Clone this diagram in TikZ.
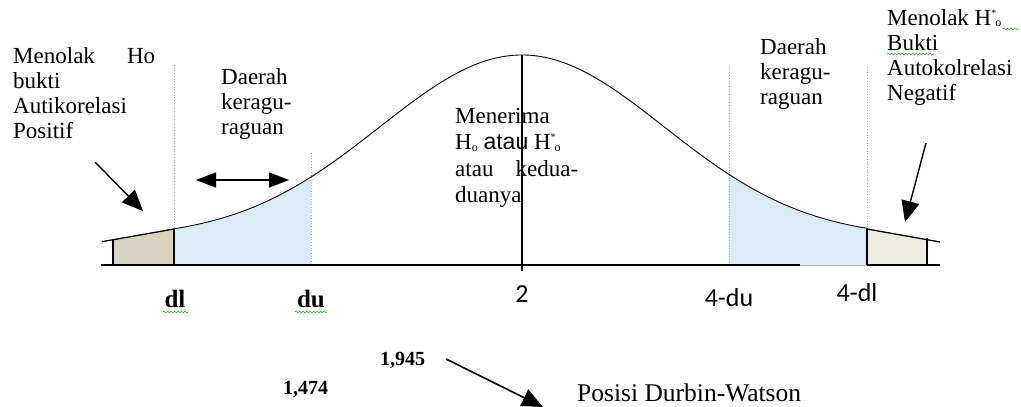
\documentclass[tikz,border=0pt]{standalone}
\usepackage{fontspec}
\setmainfont{Liberation Serif}
\newfontfamily\calib{Carlito}
\newfontfamily\arialf{Liberation Sans}
\usetikzlibrary{arrows.meta,decorations.pathmorphing}
\definecolor{blueF}{HTML}{DAEBF2}
\definecolor{tanL}{HTML}{D9D4C2}
\definecolor{tanR}{HTML}{EEECE2}
\definecolor{spellG}{HTML}{3A9A3A}
\newcommand\blk[1]{\begin{tabular}[t]{@{}l@{}}#1\end{tabular}}
\newcommand\Hs{H\raisebox{-1.5pt}{\fontsize{12}{12}\selectfont o}}
\newcommand\Hss{H\raisebox{9pt}{\fontsize{10}{10}\selectfont *}\kern-1pt\raisebox{-1.5pt}{\fontsize{12}{12}\selectfont o}}
\tikzset{
  txt/.style={font=\fontsize{23}{25}\selectfont, inner sep=0pt, anchor=base west},
  txtc/.style={font=\fontsize{23}{26.5}\selectfont, inner sep=0pt, anchor=base west},
  axlab/.style={font=\calib\fontsize{26}{28}\selectfont, inner sep=0pt, anchor=base},
  serlab/.style={font=\bfseries\fontsize{25}{28}\selectfont, inner sep=0pt, anchor=base},
  numlab/.style={font=\bfseries\fontsize{20}{22}\selectfont, inner sep=0pt, anchor=base west},
  bigarrow/.style={draw, line width=1.4pt, -{Triangle[width=18pt,length=21pt]}},
  dblarrow/.style={draw, line width=1.4pt, {Triangle[width=15pt,length=20pt]}-{Triangle[width=15pt,length=20pt]}},
  dotv/.style={draw=gray!60, dotted, line width=0.7pt},
  edge/.style={draw, line width=1.3pt},
  curve/.style={draw, line width=0.9pt},
  spell/.style={draw=spellG, line width=0.6pt, decorate, decoration={snake, amplitude=0.9pt, segment length=3.5pt}},
}
\begin{document}
\begin{tikzpicture}[x=1pt,y=-1pt]
\useasboundingbox (0,0) rectangle (1021,407);
% shaded regions
\fill[blueF] (174,265) -- plot[domain=174:311,samples=40] (\x,{238-183*exp(-((\x-522)/100)^2/4.0526)}) -- (311,265) -- cycle;
\fill[blueF] (729,265) -- plot[domain=729:867,samples=40] (\x,{238-183*exp(-((\x-522)/100)^2/4.0526)}) -- (867,265) -- cycle;
\fill[tanL] (113,265) -- (113,239.5) -- (174,229) -- (174,265) -- cycle;
\fill[tanR] (867,265) -- (867,229) -- (927,238) -- (927,265) -- cycle;
% dotted verticals
\draw[dotv] (174,65) -- (174,229);
\draw[dotv] (311,153) -- (311,265);
\draw[dotv] (729,67) -- (729,265);
\draw[dotv] (867,67) -- (867,229);
% curve
\draw[curve] plot[domain=174:867,samples=150] (\x,{238-183*exp(-((\x-522)/100)^2/4.0526)});
% tails and boxes
\coordinate (tl0) at (102,241.7);
\coordinate (tl1) at (174,229);
\coordinate (tr0) at (867,229);
\coordinate (tr1) at (940,242);
\draw[edge] (tl0) -- (tl1);
\draw[edge] (tr0) -- (tr1);
\draw[edge] (113,239.5) -- (113,265);
\draw[edge] (174,229) -- (174,265);
\draw[edge] (867,229) -- (867,265);
\draw[edge] (927,238) -- (927,265);
% axis and centre line
\coordinate (ax0) at (101,265);
\coordinate (axg0) at (800,265);
\coordinate (axg1) at (867,265);
\coordinate (ax1) at (940,265);
\draw[edge] (ax0) -- (axg0);
\draw[draw=gray!55, line width=0.9pt] (axg0) -- (axg1);
\draw[edge] (axg1) -- (ax1);
\coordinate (peak) at (522,55);
\coordinate (cbot) at (522,271);
\draw[edge] (peak) -- (cbot);
% texts
\node[txt] (tl) at (13,63) {\blk{\makebox[142pt][s]{Menolak\hfill Ho}\\bukti\\Autikorelasi\\Positif}};
\node[txt] (dl1) at (221,84) {\blk{Daerah\\keragu-\\raguan}};
\node[txtc] (ctr) at (455,123) {\blk{Menerima\\\Hs{} {\arialf atau} \Hss\\\makebox[123pt][s]{atau\hfill kedua-}\\duanya}};
\node[txt] (dr1) at (760,54) {\blk{Daerah\\keragu-\\raguan}};
\node[txt] (tr) at (887,25) {\blk{Menolak \Hss\\Bukti\\Autokolrelasi\\Negatif}};
% spell underlines
\draw[spell] (1003,29) -- (1019,29);
\draw[spell] (887,54) -- (934,54);
% arrows
\coordinate (la0) at (95,162);
\coordinate (la1) at (143,211);
\draw[bigarrow] (la0) -- (la1);
\coordinate (ra0) at (926,143);
\coordinate (ra1) at (905,222);
\draw[bigarrow] (ra0) -- (ra1);
\coordinate (da0) at (196,180);
\coordinate (da1) at (289,180);
\draw[dblarrow] (da0) -- (da1);
% axis labels
\node[serlab] (ldl) at (175,307) {dl};
\node[serlab] (ldu) at (311,307) {du};
\draw[spell] (163,312) -- (188,312);
\draw[spell] (295,312) -- (327,312);
\node[axlab] (l2) at (522,302) {2};
\node[axlab] (l4du) at (729,306) {4-du};
\node[axlab] (l4dl) at (857,301) {4-dl};
% bottom
\node[numlab] (n1945) at (380,365) {1,945};
\node[numlab] (n1474) at (283,394) {1,474};
\node[font=\fontsize{25.5}{28}\selectfont, inner sep=0pt, anchor=base west] (pos) at (577,401) {Posisi Durbin-Watson};
\coordinate (ba0) at (446,359);
\coordinate (ba1) at (543,407);
\draw[bigarrow, line width=1.6pt] (ba0) -- (ba1);
\end{tikzpicture}
\end{document}
